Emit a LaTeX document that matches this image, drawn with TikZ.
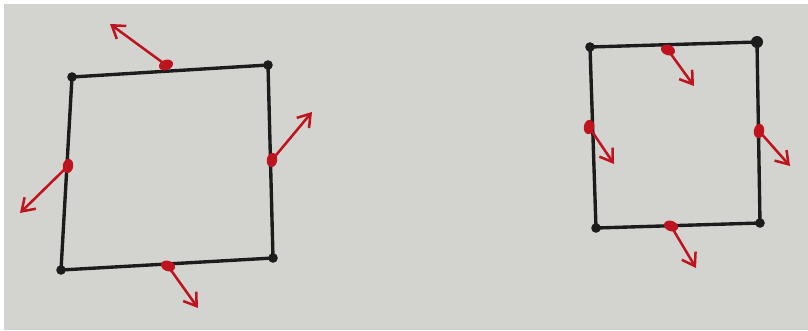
\documentclass[tikz,border=0pt]{standalone}
\usetikzlibrary{arrows.meta, positioning, shapes.geometric}
\usepackage{xcolor}
\definecolor{paper}{HTML}{D3D3CF}
\definecolor{inkblack}{HTML}{1C1C1C}
\definecolor{inkred}{HTML}{BE1420}

\begin{document}
\begin{tikzpicture}[x=0.025cm, y=-0.025cm,
    corner/.style={circle, fill=inkblack, inner sep=0pt, minimum size=0.24cm},
    middot/.style={ellipse, fill=inkred, inner sep=0pt, minimum width=0.36cm, minimum height=0.26cm},
    side/.style={line width=2.4pt, inkblack, line cap=round, line join=round},
    arrow/.style={-{Straight Barb[length=3mm, width=4mm]}, line width=1.8pt, inkred, shorten <=-1pt},
  ]
  % paper
  \fill[white] (0,0) rectangle (808,330);
  \fill[paper] (4,4) rectangle (808,330);
  \useasboundingbox (0,0) rectangle (808,330);

  % left square
  \node[corner] (ltl) at (72,77) {};
  \node[corner] (ltr) at (268,65) {};
  \node[corner] (lbr) at (273,258) {};
  \node[corner] (lbl) at (61,270) {};
  \draw[side] (ltl.center) -- (ltr.center) -- (lbr.center) -- (lbl.center) -- cycle;

  \node[middot, rotate=20] (ltop) at (166,65) {};
  \node[middot, rotate=80] (lright) at (272,160) {};
  \node[middot, rotate=80] (lleft) at (68,166) {};
  \node[middot, rotate=-20] (lbot) at (168,266) {};
  \coordinate (ltopend) at (110,24);
  \coordinate (lrightend) at (312,112);
  \coordinate (lleftend) at (20,213);
  \coordinate (lbotend) at (198,308);
  \draw[arrow] (ltop.center) -- (ltopend);
  \draw[arrow] (lright.center) -- (lrightend);
  \draw[arrow] (lleft.center) -- (lleftend);
  \draw[arrow] (lbot.center) -- (lbotend);

  % right square
  \node[corner] (rtl) at (590,47) {};
  \node[corner, minimum size=0.3cm] (rtr) at (757,42) {};
  \node[corner] (rbr) at (760,223) {};
  \node[corner] (rbl) at (596,228) {};
  \draw[side] (rtl.center) -- (rtr.center) -- (rbr.center) -- (rbl.center) -- cycle;

  \node[middot, rotate=-20] (rtop) at (668,50) {};
  \node[middot, rotate=80] (rleft) at (589,127) {};
  \node[middot, rotate=80] (rright) at (759,131) {};
  \node[middot, rotate=-20] (rbot) at (671,226) {};
  \coordinate (rtopend) at (694,86);
  \coordinate (rleftend) at (614,164);
  \coordinate (rrightend) at (790,166);
  \coordinate (rbotend) at (696,268);
  \draw[arrow] (rtop.center) -- (rtopend);
  \draw[arrow] (rleft.center) -- (rleftend);
  \draw[arrow] (rright.center) -- (rrightend);
  \draw[arrow] (rbot.center) -- (rbotend);
\end{tikzpicture}
\end{document}
